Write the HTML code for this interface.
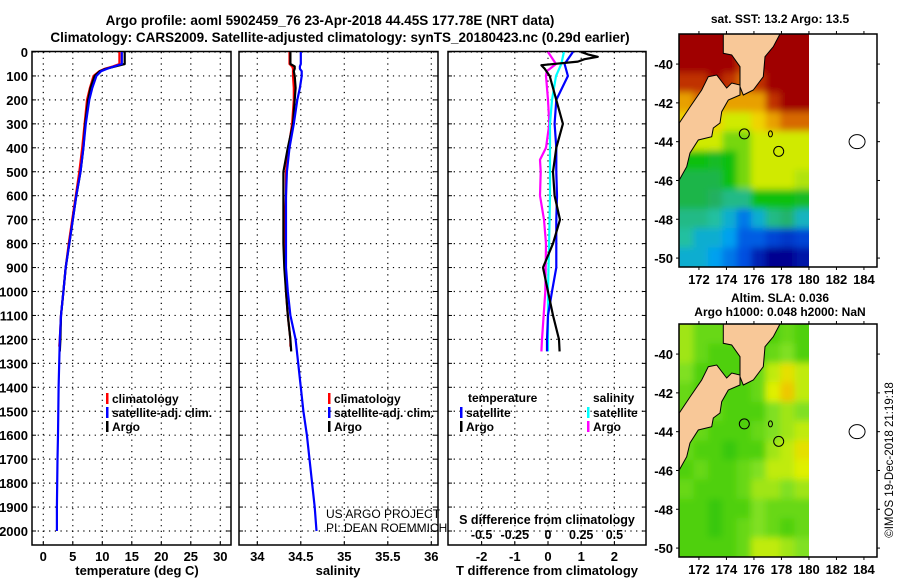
<!DOCTYPE html>
<html><head><meta charset="utf-8"><style>
html,body{margin:0;padding:0;background:#fff;}
svg{display:block;font-family:"Liberation Sans",sans-serif;font-weight:bold;}
</style></head><body>
<svg id="chart" width="900" height="580" viewBox="0 0 900 580" xmlns="http://www.w3.org/2000/svg">
<defs>
<filter id="blur" x="-5%" y="-5%" width="110%" height="110%"><feGaussianBlur stdDeviation="3.5"/></filter>
<clipPath id="clip1"><rect x="679" y="34" width="130" height="233"/></clipPath>
<clipPath id="clip2"><rect x="679" y="324" width="130" height="233"/></clipPath>
</defs>
<text x="330" y="25" font-size="13.5" text-anchor="middle">Argo profile: aoml 5902459_76 23-Apr-2018 44.45S 177.78E (NRT data)</text>
<text x="340" y="42" font-size="13.5" text-anchor="middle">Climatology: CARS2009. Satellite-adjusted climatology: synTS_20180423.nc (0.29d earlier)</text>
<g id="g1"></g>
<g id="g2"></g>
<g id="g3"></g>
<g id="m1"></g>
<g id="m2"></g>
<text x="780" y="23" font-size="12" text-anchor="middle">sat. SST: 13.2 Argo: 13.5</text>
<text x="780" y="302" font-size="12" text-anchor="middle">Altim. SLA: 0.036</text>
<text x="780" y="316" font-size="12" text-anchor="middle">Argo h1000: 0.048 h2000: NaN</text>
<text transform="translate(893,460) rotate(-90)" font-size="11.5" font-weight="normal" text-anchor="middle">©IMOS 19-Dec-2018 21:19:18</text>
</svg>
<script>
// ---------- profile data ----------
const depthTicks=[0,100,200,300,400,500,600,700,800,900,1000,1100,1200,1300,1400,1500,1600,1700,1800,1900,2000];
const tTicks=[0,5,10,15,20,25,30];
const sTicks=[34,34.5,35,35.5,36];
const dTTicks=[-2,-1,0,1,2];
const dSTicks=[-0.5,-0.25,0,0.25,0.5];
const dSTickLabels=["-0.5","-0.25","0","0.25","0.5"];

const argoDepth=[0,50,60,70,80,100,150,200,300,400,500,600,700,800,900,1000,1100,1200,1250];
const argoT=[13.8,13.8,12.2,10.6,9.6,8.7,8.0,7.6,7.1,6.8,6.3,5.6,5.0,4.4,3.8,3.4,3.0,2.9,2.8];
const climDepth=[0,50,60,70,80,100,150,200,300,400,500,600,700,800,900,1000,1100,1200,1230];
const climT=[12.9,12.9,11.8,10.4,9.5,8.5,7.9,7.4,7.0,6.6,6.1,5.5,4.9,4.3,3.8,3.4,3.0,2.8,2.7];
const satDepth=[0,50,60,70,80,100,150,200,300,400,500,600,700,800,900,1000,1100,1200,1300,1400,1500,1600,1700,1800,1900,2000];
const satT=[13.3,13.3,12.0,10.8,9.8,9.0,8.3,7.8,7.2,6.8,6.3,5.6,5.0,4.4,3.8,3.4,3.0,2.8,2.7,2.6,2.55,2.5,2.4,2.35,2.3,2.3];

const argoS=[34.38,34.38,34.43,34.43,34.42,34.43,34.44,34.43,34.41,34.35,34.30,34.30,34.30,34.30,34.31,34.33,34.35,34.38,34.39];
const climS=[34.37,34.37,34.40,34.41,34.41,34.41,34.42,34.42,34.40,34.36,34.33,34.33,34.32,34.32,34.32,34.33,34.35,34.38,34.38];
const satS=[34.50,34.50,34.49,34.49,34.51,34.51,34.49,34.46,34.42,34.37,34.34,34.33,34.33,34.33,34.33,34.35,34.38,34.44,34.47,34.50,34.53,34.57,34.60,34.63,34.66,34.68];

const dArgoDepth=[0,10,20,30,40,55,70,100,200,300,400,500,600,700,800,900,1000,1100,1200,1250];
const dArgoT=[1.0,1.2,1.5,1.1,0.9,-0.2,-0.1,0.05,0.25,0.45,0.25,0.15,0.2,0.36,0.15,-0.15,0.0,0.15,0.33,0.35];
const dSatDepth=[0,50,100,200,300,400,500,600,700,800,900,1000,1100,1200,1250];
const dSatT=[0.75,0.5,0.6,0.25,0.2,0.25,0.25,0.27,0.25,0.25,0.25,0.12,0.0,-0.03,-0.03];
const dArgoSDepth=[0,50,80,100,200,300,400,450,500,600,700,800,1000,1200,1250];
const dArgoS=[0.0,0.06,-0.01,-0.015,0.0,0.01,-0.015,-0.06,-0.055,-0.06,-0.03,-0.015,-0.02,-0.045,-0.05];
const dSatSDepth=[0,50,100,200,300,400,600,800,1000,1200,1250];
const dSatS=[0.12,0.1,0.06,0.03,0.015,0.015,0.015,0.008,0.0,0.0,0.0];

// ---------- map data ----------
const mapLonEdges=[170.55,171.6,172.65,173.7,174.75,175.8,176.85,177.9,178.95,180.0];
const mapLatTicks=[-40,-42,-44,-46,-48,-50];
const mapLonTicks=[172,174,176,178,180,182,184];
const sstGrid=[
[16,16,16,16,15.5,16,16,16,16],
[16,16,16,15.5,15,15.5,16,16,16],
[15,15,15.5,15,14.5,15,16,16,16],
[14,14.5,14,14,14,14,15,15.5,15.5],
[13.5,14,13.5,13,13,13.5,14,14.5,14.5],
[13.5,13,13,12.5,12.5,13,13,13,13],
[12,12,11.8,12,12.5,13,13,13,13],
[11.5,11.5,11.5,12,12.5,13,13,13,12.8],
[11.5,11.5,11.3,11,11,12,12,12,11.8],
[11,11,10.8,10.5,10,10.5,11,11.2,10.6],
[10.8,10.5,10.5,10.3,9.8,9.8,9.6,9.5,9.6],
[10.5,10.5,10.3,10,9.7,9.3,9,9,9.2]];
const slaGrid=[
[0.5,0.3,0.3,0.3,0.2,0.2,0.2,0.3,0.2],
[0.5,0.3,0.2,0.2,0.2,0.2,0.3,0.4,0.2],
[0.4,0.2,0.2,0.2,0.2,0.3,0.6,0.8,0.6],
[0.3,0.2,0.2,0.2,0.2,0.3,0.7,0.95,0.6],
[0.3,0.2,0.3,0.2,0.2,0.2,0.4,0.5,0.4],
[0.3,0.3,0.2,0.2,0.2,0.3,0.4,0.5,0.6],
[0.3,0.2,0.2,0.1,0.2,0.2,0.5,0.6,0.8],
[0.2,0.3,0.2,0.2,0.3,0.4,0.6,0.6,0.7],
[0.3,0.2,0.2,0.2,0.3,0.5,0.5,0.4,0.5],
[0.2,0.2,0.1,0.2,0.2,0.4,0.3,0.3,0.3],
[0.2,0.2,0.1,0.2,0.3,0.4,0.3,0.2,0.3],
[0.2,0.2,0.2,0.2,0.3,0.6,0.6,0.5,0.4]];

const NS="http://www.w3.org/2000/svg";
function mk(parent,tag,attrs,text){const e=document.createElementNS(NS,tag);for(const k in attrs)e.setAttribute(k,attrs[k]);if(text!==undefined)e.textContent=text;parent.appendChild(e);return e;}

const yTop=52, yBot=545;
const yD=d=>yTop+d*0.2395;

function panel(g,x0,x1,xs,ticks,labels,showDepth){
  for(const d of depthTicks){
    const l=mk(g,'line',{x1:x0,x2:x1,y1:yD(d),y2:yD(d),stroke:'#000','stroke-width':1.2,'stroke-dasharray':'1.2,4.5'});
    
    
    mk(g,'line',{x1:x0,x2:x0+4,y1:yD(d),y2:yD(d),stroke:'#000'});
    mk(g,'line',{x1:x1-4,x2:x1,y1:yD(d),y2:yD(d),stroke:'#000'});
    if(showDepth){
      const t=mk(g,'text',{x:x0-4,y:yD(d)+5,'font-size':13,'text-anchor':'end'},String(d));
      
      
    }
  }
  ticks.forEach((v,i)=>{
    const x=xs(v);
    const l=mk(g,'line',{x1:x,x2:x,y1:yTop,y2:yBot,stroke:'#000','stroke-width':1.2,'stroke-dasharray':'1.2,4.5'});
    
    
    mk(g,'line',{x1:x,x2:x,y1:yBot-4,y2:yBot,stroke:'#000'});
    if(labels){
      const t=mk(g,'text',{x:x,y:561,'font-size':13,'text-anchor':'middle'},labels[i]);
      
      
    }
  });
  const r=mk(g,'rect',{x:x0,y:yTop-0.5,width:x1-x0,height:yBot-yTop+0.5,fill:'none',stroke:'#000','stroke-width':1.5});
  
  
}
function line(g,xs,vals,depths,color,name){
  const pts=vals.map((v,i)=>xs(v).toFixed(1)+','+yD(depths[i]).toFixed(1)).join(' ');
  const p=mk(g,'polyline',{points:pts,fill:'none',stroke:color,'stroke-width':2.2,'stroke-linejoin':'round'});
  
  
}
function legend(g,x,y,color,label,name){
  mk(g,'rect',{x:x,y:y-10,width:2.5,height:11,fill:color});
  const t=mk(g,'text',{x:x+6,y:y,'font-size':12},label);
  
  
}

// Panel 1 temperature
const g1=document.getElementById('g1');
const xT=v=>43.3+v*5.9;
panel(g1,32,231,xT,tTicks,tTicks.map(String),true);
line(g1,xT,climT,climDepth,'#f00','climatology-temperature-line');
line(g1,xT,argoT,argoDepth,'#000','argo-temperature-line');
line(g1,xT,satT,satDepth,'#00f','satellite-temperature-line');
legend(g1,106,403,'#f00','climatology','legend-climatology');
legend(g1,106,417,'#00f','satellite-adj. clim.','legend-satellite');
legend(g1,106,431,'#000','Argo','legend-argo');
mk(g1,'text',{x:137,y:575,'font-size':13,'text-anchor':'middle'},'temperature (deg C)');

// Panel 2 salinity
const g2=document.getElementById('g2');
const xS=v=>257.3+(v-34)*87;
panel(g2,239,438,xS,sTicks,sTicks.map(String),false);
line(g2,xS,climS,climDepth,'#f00','climatology-salinity-line');
line(g2,xS,argoS,argoDepth,'#000','argo-salinity-line');
line(g2,xS,satS,satDepth,'#00f','satellite-salinity-line');
legend(g2,328,403,'#f00','climatology','legend-climatology');
legend(g2,328,417,'#00f','satellite-adj. clim.','legend-satellite');
legend(g2,328,431,'#000','Argo','legend-argo');
mk(g2,'text',{x:338,y:575,'font-size':13,'text-anchor':'middle'},'salinity');
mk(g2,'text',{x:326,y:518,'font-size':12,'font-weight':'normal'},'US ARGO PROJECT');
mk(g2,'text',{x:326,y:532,'font-size':12,'font-weight':'normal'},'PI: DEAN ROEMMICH');

// Panel 3 differences
const g3=document.getElementById('g3');
const xDT=v=>548+v*33.2;
const xDS=v=>548+v*132.8;
panel(g3,448,646,xDT,dTTicks,dTTicks.map(String),false);
line(g3,xDS,dArgoS,dArgoSDepth,'#f0f','argo-salinity-diff-line');
line(g3,xDS,dSatS,dSatSDepth,'#0ff','satellite-salinity-diff-line');
line(g3,xDT,dSatT,dSatDepth,'#00f','satellite-temperature-diff-line');
line(g3,xDT,dArgoT,dArgoDepth,'#000','argo-temperature-diff-line');
mk(g3,'text',{x:468,y:402,'font-size':12},'temperature');
mk(g3,'text',{x:593,y:402,'font-size':12},'salinity');
legend(g3,460,417,'#00f','satellite','legend-t-satellite');
legend(g3,460,431,'#000','Argo','legend-t-argo');
legend(g3,587,417,'#0ff','satellite','legend-s-satellite');
legend(g3,587,431,'#f0f','Argo','legend-s-argo');
mk(g3,'text',{x:547,y:524,'font-size':12.5,'text-anchor':'middle'},'S difference from climatology');
dSTicks.forEach((v,i)=>{
  const t=mk(g3,'text',{x:xDS(v),y:539,'font-size':12.5,'text-anchor':'middle'},dSTickLabels[i]);
  
  
});
mk(g3,'text',{x:547,y:575,'font-size':13,'text-anchor':'middle'},'T difference from climatology');

// ---------- maps ----------
function lerpColor(stops,v){
  if(v<=stops[0][0])return stops[0][1];
  for(let i=1;i<stops.length;i++){
    if(v<=stops[i][0]){
      const [a,ca]=stops[i-1],[b,cb]=stops[i];const t=(v-a)/(b-a);
      const pa=[1,3,5].map(k=>parseInt(ca.substr(k,2),16)),pb=[1,3,5].map(k=>parseInt(cb.substr(k,2),16));
      return 'rgb('+pa.map((x,j)=>Math.round(x+(pb[j]-x)*t)).join(',')+')';
    }
  }
  return stops[stops.length-1][1];
}
const sstStops=[[9,'#000090'],[9.7,'#0050e0'],[10.3,'#00a0f0'],[10.8,'#20c0a0'],[11.3,'#20b060'],[12,'#10c010'],[12.7,'#a0e010'],[13.2,'#f0f000'],[13.7,'#f0c000'],[14.3,'#e08000'],[15,'#c03000'],[15.5,'#a00000']];
const slaStops=[[0,'#20c000'],[0.4,'#80e020'],[0.7,'#e0f000'],[1,'#f0c000']];

function drawMap(g,top,grid,stops,clipId){
  const left=679,right=877,bottom=top+233;
  const lonX=lon=>left+(lon-170.55)*13.75;
  const latY=lat=>top+(-38.45-lat)*19.4;
  const rowH=(bottom-top)/grid.length;
  const clipG=mk(g,'g',{'clip-path':'url(#'+clipId+')'});
  const cells=mk(clipG,'g',{filter:'url(#blur)'});
  grid.forEach((row,r)=>row.forEach((v,c)=>{
    const x=lonX(mapLonEdges[c]),w=lonX(mapLonEdges[c+1])-x;
    let y=top+r*rowH,h=rowH+0.5;
    let xx=x,ww=w+0.5;
    if(r===0){y-=8;h+=8;} if(r===grid.length-1){h+=8;}
    if(c===0){xx-=8;ww+=8;} if(c===row.length-1){ww+=8;}
    const cell=mk(cells,'rect',{x:xx.toFixed(1),y:y.toFixed(1),width:ww.toFixed(1),height:h.toFixed(1),fill:lerpColor(stops,v)});
    
    
  }));
  const south=[[0.3,89],[11,73],[22.7,56],[29.3,42.7],[37.7,41],[47.7,54],[52.7,49],[61,51],[61,61],[49.3,66],[42.7,77.7],[41,89],[34.3,94],[32.7,102.7],[19.3,106],[11,119],[7.7,132.7],[0.3,146]];
  const north=[[44.3,0],[44.3,19.3],[52.7,21],[61,32.7],[61,52.7],[64.3,61],[74.3,56],[84.3,42.7],[86,22.7],[94.3,12.7],[101,0]];
  [[south,'south-island'],[north,'north-island']].forEach(([pts,n])=>{
    const p=mk(g,'polygon',{points:pts.map(q=>(left+q[0])+','+(top+q[1])).join(' '),fill:'#f8c898',stroke:'#000','stroke-width':1});
    
    
  });
  mk(g,'circle',{cx:lonX(175.3),cy:latY(-43.6),r:5,fill:'none',stroke:'#000'});
  mk(g,'circle',{cx:lonX(177.8),cy:latY(-44.5),r:5,fill:'none',stroke:'#000'});
  mk(g,'ellipse',{cx:lonX(177.2),cy:latY(-43.6),rx:2,ry:3,fill:'none',stroke:'#000'});
  const ch=mk(g,'ellipse',{cx:lonX(183.5),cy:latY(-44),rx:8,ry:7,fill:'none',stroke:'#000'});
  
  
  mk(g,'rect',{x:left,y:top,width:right-left,height:bottom-top,fill:'none',stroke:'#000','stroke-width':1.5});
  mapLatTicks.forEach(lat=>{
    const t=mk(g,'text',{x:left-6,y:latY(lat)+5,'font-size':13,'text-anchor':'end'},String(lat));
    
    
    mk(g,'line',{x1:left-3,x2:left,y1:latY(lat),y2:latY(lat),stroke:'#000'});
    mk(g,'line',{x1:right,x2:right+3,y1:latY(lat),y2:latY(lat),stroke:'#000'});
  });
  mapLonTicks.forEach(lon=>{
    const t=mk(g,'text',{x:lonX(lon),y:bottom+17,'font-size':13,'text-anchor':'middle'},String(lon));
    
    
    mk(g,'line',{x1:lonX(lon),x2:lonX(lon),y1:bottom,y2:bottom+3,stroke:'#000'});
    mk(g,'line',{x1:lonX(lon),x2:lonX(lon),y1:top-3,y2:top,stroke:'#000'});
  });
}
drawMap(document.getElementById('m1'),34,sstGrid,sstStops,'clip1');
drawMap(document.getElementById('m2'),324,slaGrid,slaStops,'clip2');
</script>
</body></html>
